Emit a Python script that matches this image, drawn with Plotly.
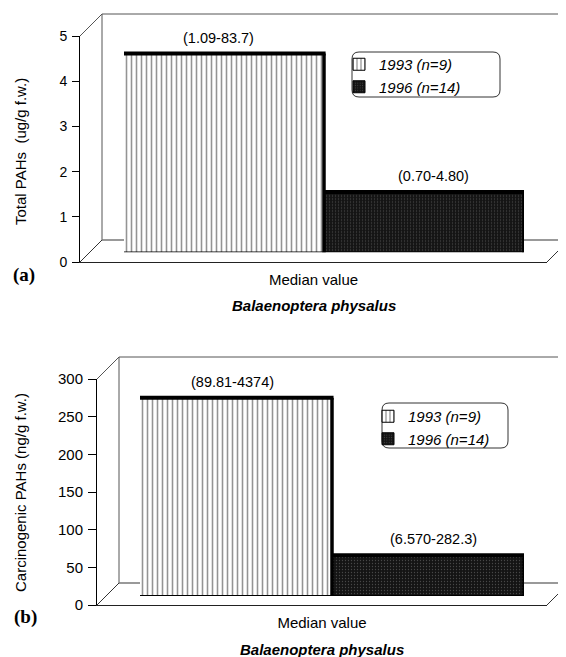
import plotly.graph_objects as go

# ---------------- data ----------------
categories = ["Median value"]
series_names = ["1993 (n=9)", "1996 (n=14)"]
total_pahs = [4.40, 1.34]            # panel (a), ug/g f.w.
carcinogenic_pahs = [263, 54]        # panel (b), ng/g f.w.
ranges_a = ["(1.09-83.7)", "(0.70-4.80)"]
ranges_b = ["(89.81-4374)", "(6.570-282.3)"]
yticks_a = [0, 1, 2, 3, 4, 5]
yticks_b = [0, 50, 100, 150, 200, 250, 300]
species = "Balaenoptera physalus"
ytitle_a = "Total PAHs  (ug/g f.w.)"
ytitle_b = "Carcinogenic PAHs (ng/g f.w.)"

# the page body has an 8 px margin, so the figure is made 8 px smaller
# and window-pixel positions are converted with that offset
OFF = 8
WIN_W, WIN_H = 566, 657
W, H = WIN_W - OFF, WIN_H - OFF
FONT = "Liberation Sans, Arial, sans-serif"


def px(x):
    return (x - OFF) / W


def py(y):
    return 1 - (y - OFF) / H


fig = go.Figure()

patterns = [
    dict(shape="|", fgcolor="#2a2a2a", bgcolor="white", size=5, solidity=0.32),
    dict(shape=".", fgcolor="#7a7a7a", bgcolor="#141414", size=3, solidity=0.15),
]

# invisible traces to carry the front category axes
for xa, ya in (("x", "y"), ("x3", "y3")):
    fig.add_trace(go.Scatter(x=categories, y=[0], xaxis=xa, yaxis=ya, mode="markers",
                             marker=dict(opacity=0), showlegend=False, hoverinfo="skip"))

for i, name in enumerate(series_names):
    fig.add_trace(go.Bar(x=categories, y=[total_pahs[i]], name=name, xaxis="x2", yaxis="y2",
                         marker=dict(color=patterns[i]["bgcolor"], pattern=patterns[i],
                                     line=dict(color="black", width=1)),
                         legend="legend"))
for i, name in enumerate(series_names):
    fig.add_trace(go.Bar(x=categories, y=[carcinogenic_pahs[i]], name=name, xaxis="x4", yaxis="y4",
                         marker=dict(color=patterns[i]["bgcolor"], pattern=patterns[i],
                                     line=dict(color="black", width=1)),
                         legend="legend2"))

tickfont = dict(family=FONT, size=15, color="black")

fig.update_layout(
    width=W, height=H, margin=dict(l=0, r=0, t=0, b=0, autoexpand=False),
    paper_bgcolor="white", plot_bgcolor="rgba(0,0,0,0)",
    barmode="group", bargap=0, bargroupgap=0,
    font=dict(family=FONT, size=15, color="black"),
    # panel (a) front axes
    xaxis=dict(domain=[px(80), px(547)], anchor="y", type="category", range=[-0.5, 0.5],
               showline=True, linecolor="#222", linewidth=1, ticks="", showgrid=False,
               tickfont=tickfont, ticklabelstandoff=4),
    yaxis=dict(domain=[py(262), py(36)], anchor="x", range=[0, 5], tickvals=yticks_a,
               ticks="outside", ticklen=7, tickcolor="black", showline=True, linecolor="black",
               linewidth=1, showgrid=False, zeroline=False, tickfont=dict(family=FONT, size=14),
               ticklabelstandoff=2),
    # panel (a) bar axes
    xaxis2=dict(domain=[px(124), px(524)], anchor="y2", type="category", visible=False,
                range=[-0.5, 0.5]),
    yaxis2=dict(domain=[py(252.5), py(252.5 - 226)], anchor="x2", range=[0, 5], visible=False),
    # panel (b) front axes
    xaxis3=dict(domain=[px(97), px(547)], anchor="y3", type="category", range=[-0.5, 0.5],
                showline=True, linecolor="#222", linewidth=1, ticks="", showgrid=False,
                tickfont=tickfont, ticklabelstandoff=4),
    yaxis3=dict(domain=[py(605), py(379)], anchor="x3", range=[0, 300], tickvals=yticks_b,
                ticks="outside", ticklen=8, tickcolor="black", showline=True, linecolor="black",
                linewidth=1, showgrid=False, zeroline=False, tickfont=tickfont,
                ticklabelstandoff=2),
    # panel (b) bar axes
    xaxis4=dict(domain=[px(140), px(524)], anchor="y4", type="category", visible=False,
                range=[-0.5, 0.5]),
    yaxis4=dict(domain=[py(596), py(596 - 226)], anchor="x4", range=[0, 300], visible=False),
    legend=dict(x=px(339), y=py(48), xanchor="left", yanchor="top", bgcolor="rgba(0,0,0,0)",
                borderwidth=0, font=dict(family=FONT, size=15, style="italic"),
                itemwidth=30, tracegroupgap=0),
    legend2=dict(x=px(368), y=py(400), xanchor="left", yanchor="top", bgcolor="rgba(0,0,0,0)",
                 borderwidth=0, font=dict(family=FONT, size=15, style="italic"),
                 itemwidth=30, tracegroupgap=0),
    showlegend=True,
)

shapes = []
wall = dict(color="#555", width=1)


def line(x0, y0, x1, y1, ln=wall):
    shapes.append(dict(type="line", xref="paper", yref="paper", x0=px(x0), y0=py(y0),
                       x1=px(x1), y1=py(y1), line=ln, layer="below"))


def walls(ax, top, bot, bx, floor_y, right_x):
    # ax: front axis x, top/bot: front axis y extent, bx: back wall x, floor_y: back floor y
    dx = bx - ax
    dy = bot - floor_y
    line(ax, top, bx, top - dy)               # top diagonal
    line(bx, top - dy, WIN_W, top - dy)       # back wall top
    line(bx, top - dy, bx, floor_y)           # back wall left
    line(ax, bot, bx, floor_y, dict(color="#333", width=1))  # floor left diagonal
    line(bx, floor_y, WIN_W, floor_y, dict(color="#777", width=1.5))  # back floor
    line(right_x, bot, right_x + dx, floor_y, dict(color="#333", width=1))  # floor right diag


walls(80, 36, 262, 102, 240, 547)
walls(97, 379, 605, 119, 583, 547)


def rounded(x0, y0, x1, y1, r=7):
    X0, X1 = px(x0), px(x1)
    path = (f"M {px(x0 + r)},{py(y0)} L {px(x1 - r)},{py(y0)} "
            f"Q {X1},{py(y0)} {X1},{py(y0 + r)} L {X1},{py(y1 - r)} "
            f"Q {X1},{py(y1)} {px(x1 - r)},{py(y1)} L {px(x0 + r)},{py(y1)} "
            f"Q {X0},{py(y1)} {X0},{py(y1 - r)} L {X0},{py(y0 + r)} "
            f"Q {X0},{py(y0)} {px(x0 + r)},{py(y0)} Z")
    shapes.append(dict(type="path", xref="paper", yref="paper", path=path,
                       line=dict(color="#333", width=1), fillcolor="white", layer="below"))


rounded(352, 52, 500, 97)
rounded(382, 403, 508, 448)

# thick 3-D top / side edges of the bars, derived from the data values
for vals, xr, yr in ((total_pahs, "x2", "y2"), (carcinogenic_pahs, "x4", "y4")):
    n = len(vals)
    for i, v in enumerate(vals):
        left = -0.5 + i / n
        right = -0.5 + (i + 1) / n
        shapes.append(dict(type="line", xref=xr, yref=yr, x0=left, x1=right + 0.004, y0=v, y1=v,
                           line=dict(color="black", width=4)))
        shapes.append(dict(type="line", xref=xr, yref=yr, x0=right, x1=right, y0=0, y1=v,
                           line=dict(color="black", width=3.5)))

fig.update_layout(shapes=shapes)

ann = []
# range labels above bars
for vals, labels, xr, yr, shifts in ((total_pahs, ranges_a, "x2", "y2", (-6, 9)),
                                     (carcinogenic_pahs, ranges_b, "x4", "y4", (-4, 5))):
    n = len(vals)
    for i, v in enumerate(vals):
        centre = -0.5 + (i + 0.5) / n
        ann.append(dict(x=centre, y=v, xref=xr, yref=yr, text=labels[i], showarrow=False,
                        xanchor="center", yanchor="bottom", yshift=6, xshift=shifts[i],
                        font=dict(family=FONT, size=14.5, color="black")))


def paper_text(x, y, text, font, angle=0):
    ann.append(dict(x=px(x), y=py(y), xref="paper", yref="paper", text=text, textangle=angle,
                    xanchor="center", yanchor="middle", showarrow=False, font=font))


# axis titles
paper_text(20, 152, ytitle_a, dict(family=FONT, size=15), -90)
paper_text(20, 493, ytitle_b, dict(family=FONT, size=15), -90)
# species labels
paper_text(314, 306, f"<b><i>{species}</i></b>", dict(family=FONT, size=15))
paper_text(322, 649, f"<b><i>{species}</i></b>", dict(family=FONT, size=15))
# panel letters
serif = "Liberation Serif, Times New Roman, serif"
paper_text(24, 275, "<b>(a)</b>", dict(family=serif, size=19))
paper_text(25, 617, "<b>(b)</b>", dict(family=serif, size=19))

fig.update_layout(annotations=ann)

fig.write_html("out.html")
